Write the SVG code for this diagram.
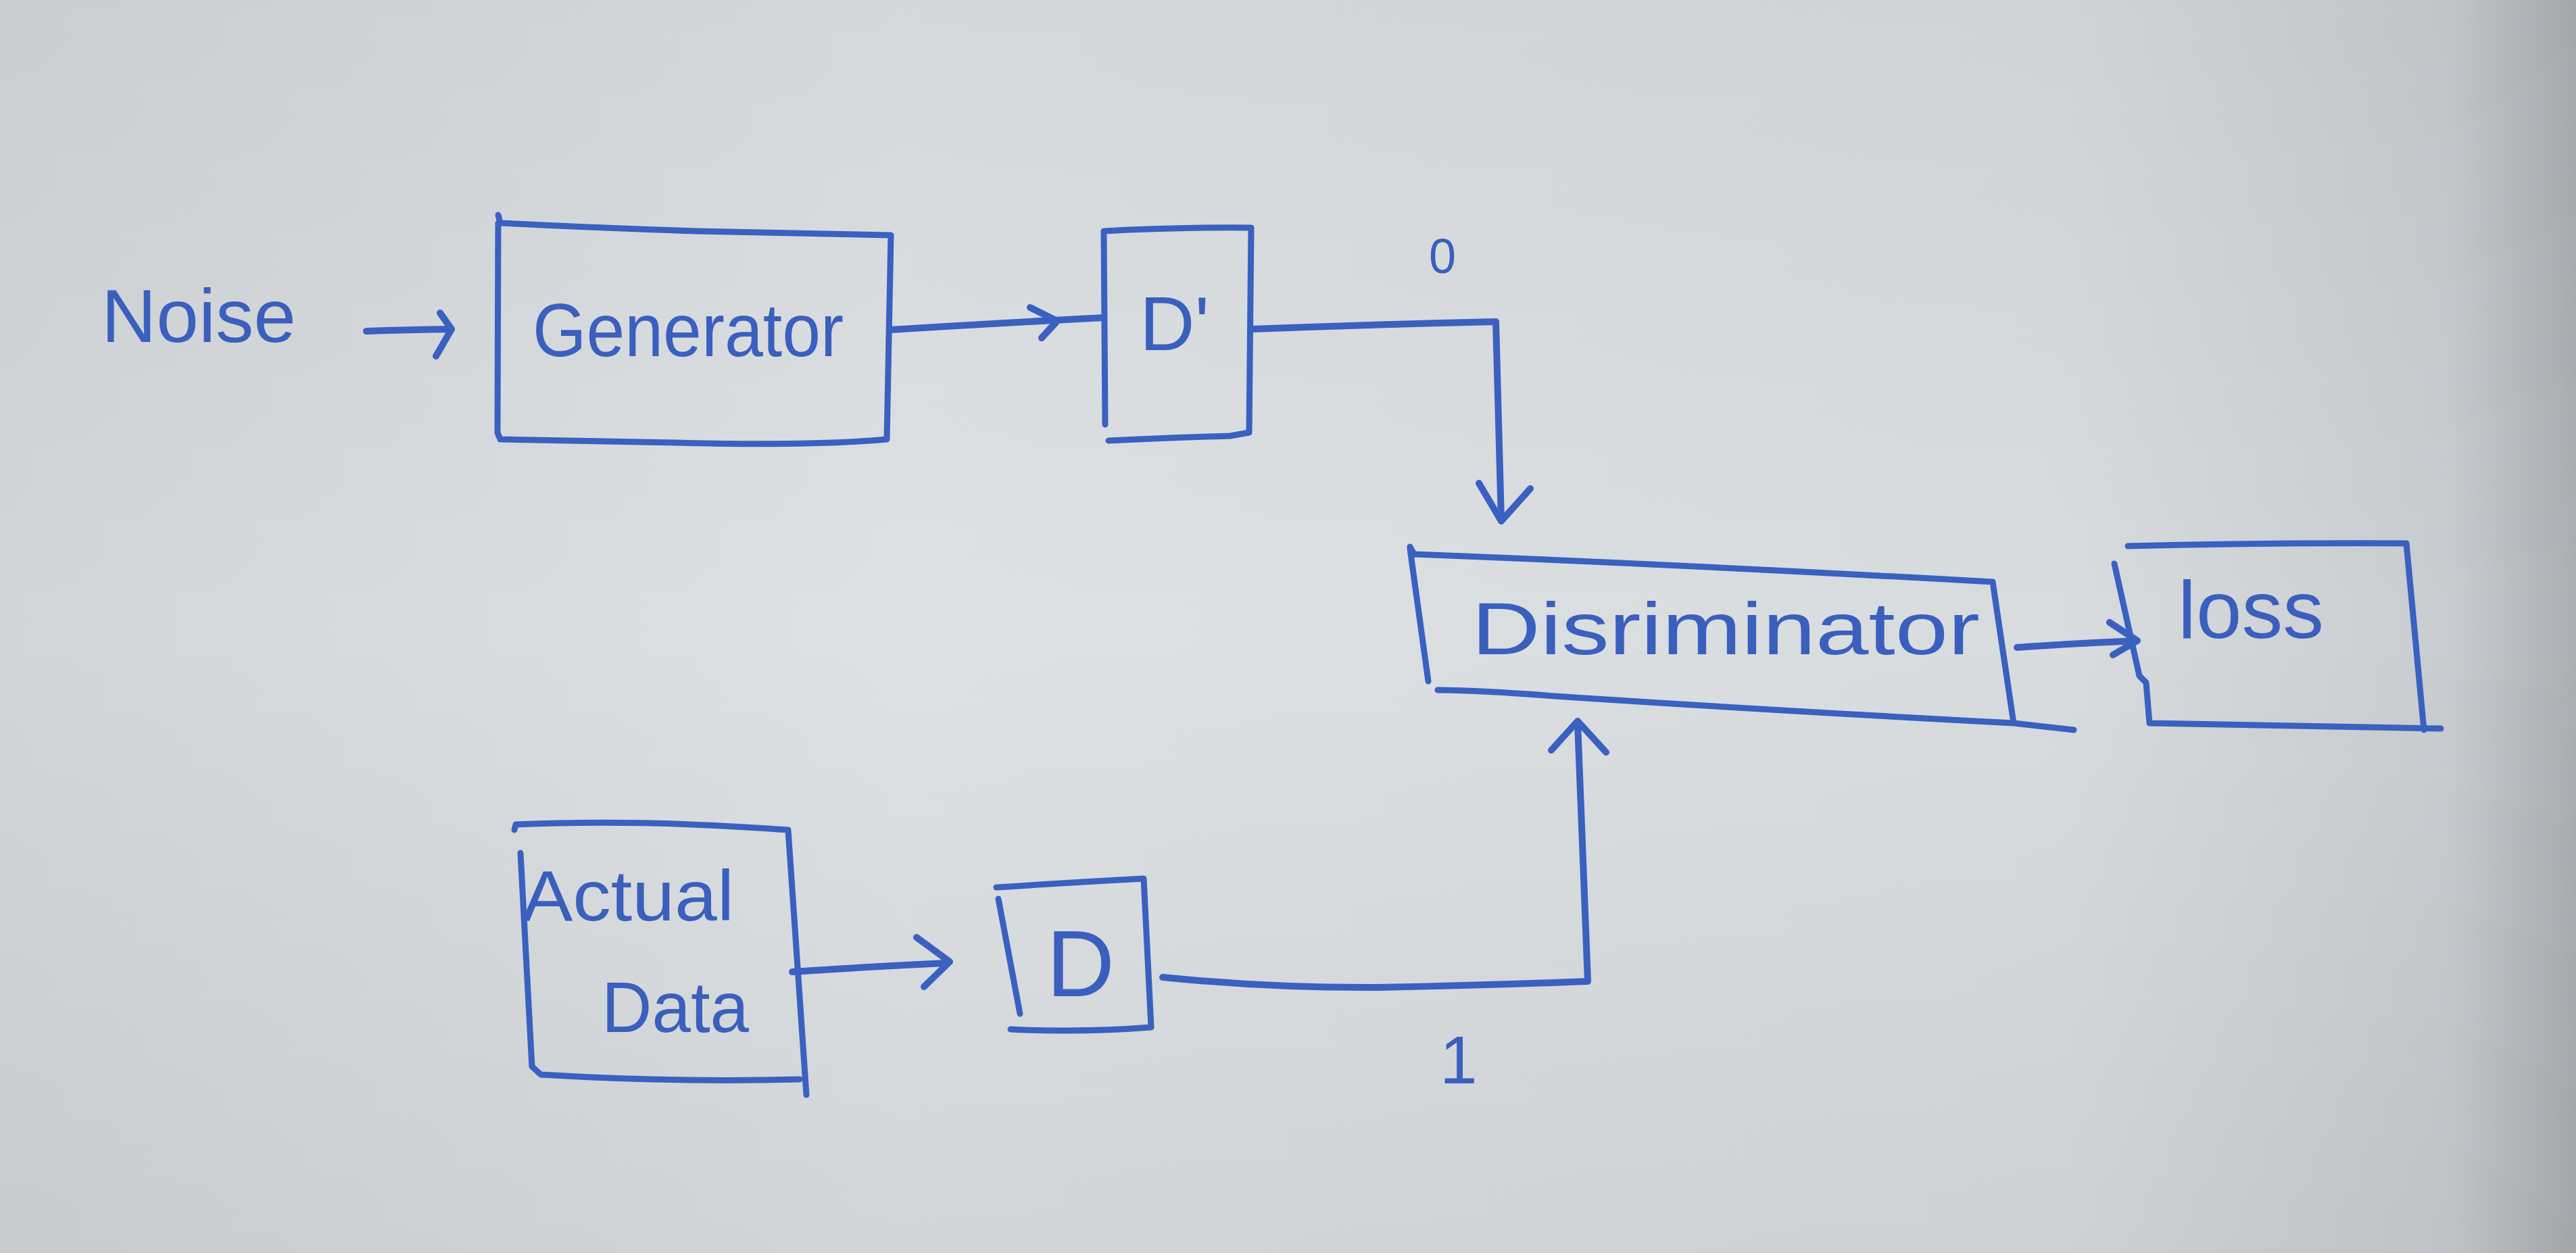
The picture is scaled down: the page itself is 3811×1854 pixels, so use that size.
<svg xmlns="http://www.w3.org/2000/svg" width="3811" height="1854" viewBox="0 0 3811 1854">
<defs>
<linearGradient id="paper" x1="0" y1="0" x2="1" y2="0">
<stop offset="0" stop-color="#d2d6d9"/>
<stop offset="0.35" stop-color="#dde1e4"/>
<stop offset="0.8" stop-color="#d8dcdf"/>
<stop offset="0.95" stop-color="#c9ccd0"/>
<stop offset="1" stop-color="#abaeb2"/>
</linearGradient>
<linearGradient id="shade" x1="0" y1="0" x2="0" y2="1">
<stop offset="0" stop-color="#000" stop-opacity="0.04"/>
<stop offset="0.5" stop-color="#000" stop-opacity="0"/>
<stop offset="1" stop-color="#000" stop-opacity="0.05"/>
</linearGradient>
<style>
.box{fill:none;stroke:#3a60c0;stroke-width:9;stroke-linecap:round;stroke-linejoin:round}
.ln{fill:none;stroke:#3a60c0;stroke-width:10;stroke-linecap:round;stroke-linejoin:round}
.txt{fill:#3a5fbd;font-family:"Liberation Sans","DejaVu Sans",sans-serif}
</style>
</defs>
<rect x="0" y="0" width="3811" height="1854" fill="url(#paper)"/>
<rect x="0" y="0" width="3811" height="1854" fill="url(#shade)"/>

<g id="noise">
<text class="txt" x="150" y="506" font-size="112" textLength="288" lengthAdjust="spacingAndGlyphs">Noise</text>
</g>

<g id="generator">
<path class="box" d="M737 318 L740 330 Q900 338 1030 342 Q1200 346 1318 348 L1312 650 Q1200 660 1000 655 Q850 652 740 650 L736 640 L737 330"/>
<text class="txt" x="788" y="527" font-size="112" textLength="460" lengthAdjust="spacingAndGlyphs">Generator</text>
</g>

<g id="dprime">
<path class="box" d="M1633 342 Q1740 336 1851 337 L1848 640 L1820 645 Q1720 648 1640 652 M1633 342 L1635 628"/>
<text class="txt" x="1686" y="518" font-size="113">D'</text>
</g>

<g id="discriminator">
<path class="box" d="M2086 809 L2092 820 Q2500 836 2948 861 L2979 1070 Q2600 1050 2300 1030 Q2200 1022 2127 1021 M2086 812 L2113 1008 M2979 1070 L3068 1080"/>
<text class="txt" x="2177" y="968" font-size="110" textLength="752" lengthAdjust="spacingAndGlyphs">Disriminator</text>
</g>

<g id="loss">
<path class="box" d="M3148 808 Q3350 803 3560 804 L3586 1080 M3128 834 L3165 1000 L3175 1010 L3180 1070 Q3400 1074 3611 1078"/>
<text class="txt" x="3222" y="944" font-size="120" textLength="216" lengthAdjust="spacingAndGlyphs">loss</text>
</g>

<g id="actual-data">
<path class="box" d="M761 1228 L763 1220 Q950 1212 1166 1228 L1193 1620 M770 1262 L787 1578 L800 1590 Q1000 1602 1183 1597"/>
<text class="txt" x="772" y="1362" font-size="105" textLength="314" lengthAdjust="spacingAndGlyphs">Actual</text>
<text class="txt" x="890" y="1527" font-size="105" textLength="218" lengthAdjust="spacingAndGlyphs">Data</text>
</g>

<g id="d">
<path class="box" d="M1474 1313 Q1580 1306 1692 1300 L1703 1520 Q1600 1528 1495 1523 M1477 1330 L1509 1500"/>
<text class="txt" x="1548" y="1474" font-size="140">D</text>
</g>

<g id="connectors">
<path class="ln" d="M542 490 Q600 488 668 487 M651 463 L668 487 L645 527"/>
<path class="ln" d="M1317 488 Q1480 478 1633 470 M1524 455 L1564 475 L1541 500"/>
<path class="ln" d="M1851 487 Q2030 480 2213 476 L2221 771 M2188 715 L2221 771 L2264 723"/>
<path class="ln" d="M2984 958 Q3070 952 3162 948 M3121 921 L3162 948 L3126 969"/>
<path class="ln" d="M1172 1438 Q1290 1430 1400 1425 M1356 1387 L1405 1423 L1367 1460"/>
<path class="ln" d="M1720 1446 Q1880 1462 2040 1461 Q2200 1458 2349 1452 L2334 1070 M2295 1110 L2334 1067 L2376 1113"/>
</g>

<g id="labels">
<text class="txt" x="2114" y="404" font-size="72">0</text>
<text class="txt" x="2130" y="1603" font-size="100">1</text>
</g>
</svg>
